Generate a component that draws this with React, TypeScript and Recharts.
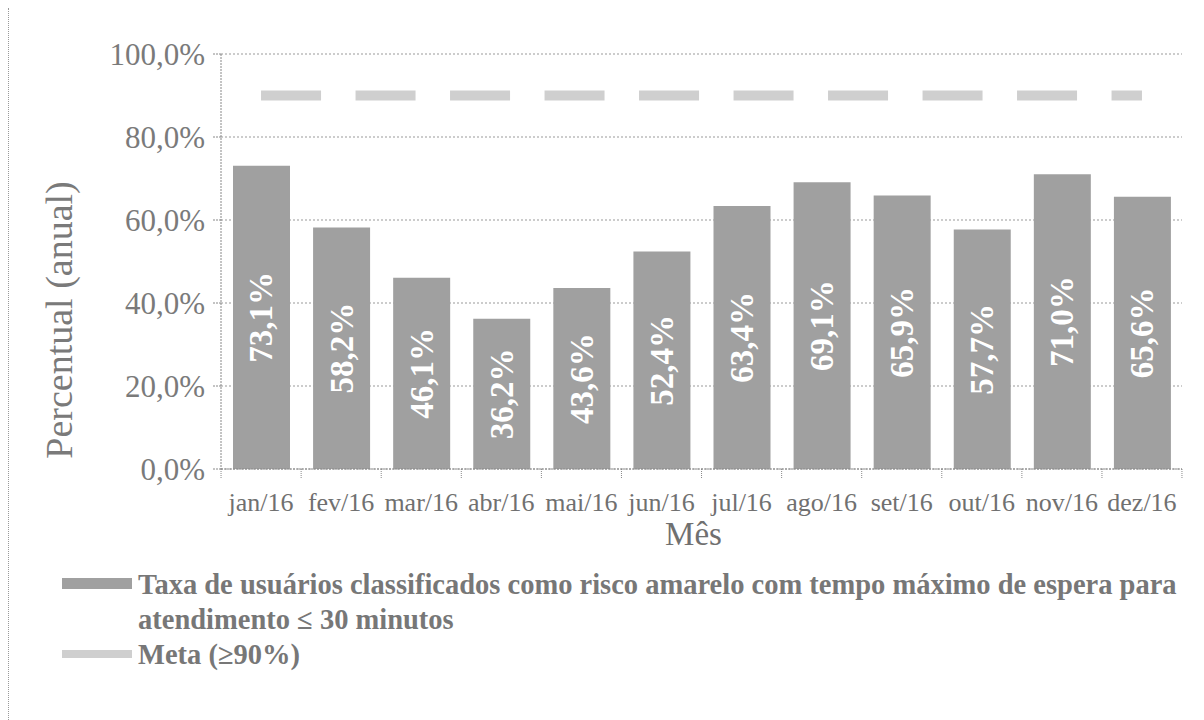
import { ComposedChart, Bar, Line, XAxis, YAxis, CartesianGrid, LabelList, Legend } from 'recharts'

const months = ['jan/16', 'fev/16', 'mar/16', 'abr/16', 'mai/16', 'jun/16', 'jul/16', 'ago/16', 'set/16', 'out/16', 'nov/16', 'dez/16']
const taxa = [73.1, 58.2, 46.1, 36.2, 43.6, 52.4, 63.4, 69.1, 65.9, 57.7, 71.0, 65.6]
const meta = [90, 90, 90, 90, 90, 90, 90, 90, 90, 90, 90, 90]
const yTicks = [0, 20, 40, 60, 80, 100]

const data = months.map((m, i) => ({ month: m, taxa: taxa[i], meta: meta[i] }))

const serif = '"Liberation Serif", "DejaVu Serif", serif'
const fmt = (v: number) => `${v.toFixed(1).replace('.', ',')}%`

const XTick = (props: any) => {
    const { x, y, payload, index } = props
    const half = 40
    return (
        <g>
            <line x1={x - half} y1={y - 8} x2={x - half} y2={y + 1} stroke='#888' strokeDasharray='1 1' />
            {index === months.length - 1 && (
                <line x1={x + half} y1={y - 8} x2={x + half} y2={y + 1} stroke='#888' strokeDasharray='1 1' />
            )}
            <text x={x} y={y + 34} textAnchor='middle' fontFamily={serif} fontSize={26} fill='#707070'>
                {payload.value}
            </text>
        </g>
    )
}

const BarLabel = (props: any) => {
    const { x, y, width, height, value } = props
    const cx = x + width / 2
    const cy = y + height / 2
    return (
        <text
            x={cx}
            y={cy}
            transform={`rotate(-90 ${cx} ${cy})`}
            textAnchor='middle'
            dominantBaseline='central'
            fontFamily={serif}
            fontWeight='bold'
            fontSize={33}
            fill='#fff'
        >
            {fmt(value)}
        </text>
    )
}

const YLabel = () => (
    <text
        x={50}
        y={312}
        transform='rotate(-90 50 312)'
        textAnchor='middle'
        dominantBaseline='central'
        fontFamily={serif}
        fontSize={38}
        fill='#7a7a7a'
    >
        Percentual (anual)
    </text>
)

const LegendBox = () => (
    <div style={{ fontFamily: serif, fontWeight: 'bold', fontSize: 28.5, color: '#777', lineHeight: '35px', paddingLeft: 53, paddingTop: 8 }}>
        <div style={{ display: 'flex', alignItems: 'flex-start' }}>
            <span style={{ display: 'inline-block', width: 70, height: 11, background: '#a0a0a0', marginTop: 11, marginRight: 6, flex: 'none' }} />
            <span style={{ width: 1060 }}>Taxa de usuários classificados como risco amarelo com tempo máximo de espera para atendimento ≤ 30 minutos</span>
        </div>
        <div style={{ display: 'flex', alignItems: 'flex-start' }}>
            <span style={{ display: 'inline-block', width: 70, height: 8, background: '#cfcfcf', marginTop: 13, marginRight: 6, flex: 'none' }} />
            <span>Meta (≥90%)</span>
        </div>
    </div>
)

const App = () => {
    return (
        <div style={{ width: 1196, height: 712, borderLeft: '1px dotted #999', boxSizing: 'border-box' }}>
            <ComposedChart
                width={1195}
                height={712}
                data={data}
                barCategoryGap={0}
                margin={{ top: 46, right: 22, left: 0, bottom: 31 }}
            >
                <CartesianGrid vertical={false} stroke='#999' strokeDasharray='2 2' />
                <XAxis
                    dataKey='month'
                    height={90}
                    tick={<XTick />}
                    tickLine={false}
                    axisLine={{ stroke: '#888', strokeDasharray: '2 1' }}
                    interval={0}
                    label={{ value: 'Mês', position: 'insideBottom', offset: 14, fontFamily: serif, fontSize: 33, fill: '#707070', dx: -8 }}
                />
                <YAxis
                    domain={[0, 100]}
                    ticks={yTicks}
                    width={212}
                    tickFormatter={fmt}
                    tick={{ fontFamily: serif, fontSize: 31, fill: '#7a7a7a' }}
                    tickSize={8}
                    tickMargin={8}
                    tickLine={{ stroke: '#888', strokeDasharray: '2 1' }}
                    axisLine={{ stroke: '#888', strokeDasharray: '2 1' }}
                    label={<YLabel />}
                />
                <Legend verticalAlign='bottom' content={<LegendBox />} wrapperStyle={{ height: 130 }} />
                <Bar dataKey='taxa' fill='#a0a0a0' barSize={57} isAnimationActive={false}>
                    <LabelList dataKey='taxa' content={<BarLabel />} />
                </Bar>
                <Line
                    dataKey='meta'
                    stroke='#cfcfcf'
                    strokeWidth={10}
                    strokeDasharray='60 34.5'
                    dot={false}
                    activeDot={false}
                    isAnimationActive={false}
                />
            </ComposedChart>
        </div>
    )
}

export default App
